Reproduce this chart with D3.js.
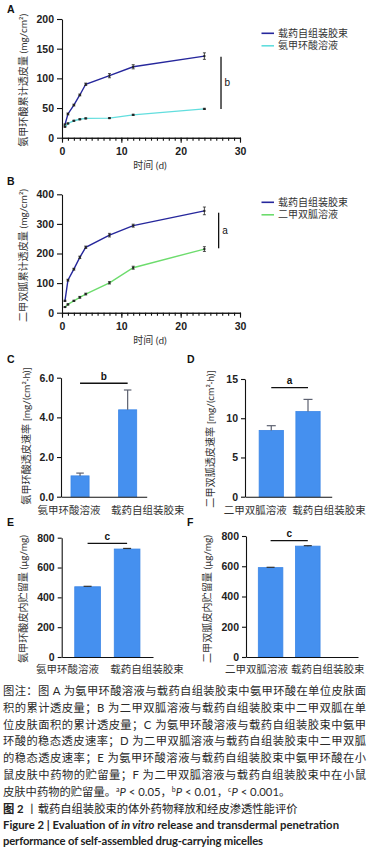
<!DOCTYPE html>
<html>
<head>
<meta charset="utf-8">
<script src="https://cdn.jsdelivr.net/npm/d3@7"></script>
<style>
  body { margin: 0; background: #fff; }
  svg { display: block; }
  .ax text { font-family: "Liberation Sans", Arial, sans-serif; font-size: 10.5px; font-weight: bold; fill: #222; }
  .ax path, .ax line { stroke: #111; stroke-width: 1.1; }
  .cat text { font-family: "Noto Sans CJK SC", sans-serif; font-size: 10.5px; fill: #333; }
</style>
</head>
<body>
<div id="fig"></div>
<script>
// sampling times (d)
var days = [0.5, 1, 2, 3, 4, 8, 12, 24]
var xTicks = [0, 10, 20, 30]

// A: tranexamic acid cumulative permeation (mg/cm2)
var aMicelle = [22, 40, 55, 72, 90, 104.5, 119.5, 137.5]
var aMicelleErr = [1, 1.5, 1.5, 1.5, 2, 3.5, 3.5, 5.5]
var aSolution = [18.5, 24, 28.5, 31, 32.5, 33, 38.5, 48.5]
var aSolutionErr = [0.8, 0.8, 0.8, 0.8, 0.8, 0.8, 1, 1]
var aTicks = [0, 50, 100, 150, 200]

// B: metformin cumulative permeation (mg/cm2)
var bMicelle = [40, 110, 147, 187, 221, 262, 294, 344]
var bMicelleErr = [2, 3, 3, 4, 4, 6, 5, 13]
var bSolution = [19, 28, 40, 52, 63, 101, 152, 215]
var bSolutionErr = [1, 2, 2, 3, 3, 4, 5, 8]
var bTicks = [0, 100, 200, 300, 400]

// C-F: bar panels
var catsTA = ["氨甲环酸溶液", "载药自组装胶束"]
var catsMF = ["二甲双胍溶液", "载药自组装胶束"]
var cValues = [1.05, 4.38], cErr = [0.14, 1.0], cTicks = [0, 2, 4, 6]
var dValues = [8.45, 10.85], dErr = [0.6, 1.55], dTicks = [0, 5, 10, 15]
var eValues = [471, 724], eErr = [3, 4]
var fValues = [591, 733], fErr = [2, 3]
var efTicks = [0, 200, 400, 600, 800]

var W = 373, H = 850
var svg = d3.select("#fig").append("svg").attr("width", W).attr("height", H)
svg.append("rect").attr("width", W).attr("height", H).attr("fill", "#fff")

var cjk = "'Noto Sans CJK SC', sans-serif"
var latin = "Lato, 'Noto Sans CJK SC', sans-serif"

function panelLetter(t, x, y) {
  svg.append("text").attr("x", x).attr("y", y).text(t)
    .attr("font-family", "'Liberation Sans', Arial, sans-serif")
    .attr("font-weight", "bold").attr("font-size", 10.5).attr("fill", "#111")
}

function yTitle(t, x, y) {
  svg.append("text").attr("transform", "translate(" + x + "," + y + ") rotate(-90)")
    .attr("text-anchor", "middle").attr("dy", "0.35em")
    .attr("font-family", latin).attr("font-size", 10.1).attr("fill", "#333")
    .text(t)
}

function linePanel(o) {
  var x = d3.scaleLinear().domain([0, 30]).range([62, 240])
  var y = d3.scaleLinear().domain([0, o.ymax]).range([o.y0, o.y1])
  var g = svg.append("g")

  // minor ticks, one per day
  g.append("g").attr("class", "ax").attr("transform", "translate(0," + o.y0 + ")")
    .call(d3.axisBottom(x).tickValues(d3.range(0, 31)).tickSize(3).tickSizeOuter(0).tickFormat(""))
  g.append("g").attr("class", "ax").attr("transform", "translate(0," + o.y0 + ")")
    .call(d3.axisBottom(x).tickValues(xTicks).tickSize(5).tickSizeOuter(0).tickPadding(5))
  g.append("g").attr("class", "ax").attr("transform", "translate(62,0)")
    .call(d3.axisLeft(y).tickValues(o.yTicks).tickSize(5).tickSizeOuter(0).tickPadding(3))

  o.series.forEach(function(s) {
    var pts = days.map(function(t, i) { return {t: t, v: s.values[i], e: s.err[i]} })
    g.append("path").datum(pts)
      .attr("fill", "none").attr("stroke", s.color).attr("stroke-width", 1.4)
      .attr("d", d3.line().x(function(d) { return x(d.t) }).y(function(d) { return y(d.v) }))

    var eb = g.selectAll(null).data(pts).enter().append("g").attr("stroke", "#222").attr("stroke-width", 0.8)
    eb.append("line")
      .attr("x1", function(d) { return x(d.t) }).attr("x2", function(d) { return x(d.t) })
      .attr("y1", function(d) { return y(d.v - d.e) }).attr("y2", function(d) { return y(d.v + d.e) })
    eb.append("line")
      .attr("x1", function(d) { return x(d.t) - 1.5 }).attr("x2", function(d) { return x(d.t) + 1.5 })
      .attr("y1", function(d) { return y(d.v + d.e) }).attr("y2", function(d) { return y(d.v + d.e) })
    eb.append("line")
      .attr("x1", function(d) { return x(d.t) - 1.5 }).attr("x2", function(d) { return x(d.t) + 1.5 })
      .attr("y1", function(d) { return y(d.v - d.e) }).attr("y2", function(d) { return y(d.v - d.e) })
    g.selectAll(null).data(pts).enter().append("rect")
      .attr("x", function(d) { return x(d.t) - 1 }).attr("y", function(d) { return y(d.v) - 1 })
      .attr("width", 2).attr("height", 2).attr("fill", "#222")
  })

  // significance bracket
  g.append("line").attr("x1", x(o.sig.x)).attr("x2", x(o.sig.x))
    .attr("y1", y(o.sig.lo)).attr("y2", y(o.sig.hi)).attr("stroke", "#111").attr("stroke-width", 1.3)
  g.append("text").attr("x", x(o.sig.x) + 3.5).attr("y", (y(o.sig.lo) + y(o.sig.hi)) / 2).attr("dy", "0.35em")
    .attr("font-family", "'Liberation Sans', Arial, sans-serif").attr("font-size", 10).attr("fill", "#111")
    .text(o.sig.label)

  // legend
  o.series.forEach(function(s, i) {
    var ly = o.legendY + i * 12.5
    g.append("line").attr("x1", 261.5).attr("x2", 274).attr("y1", ly).attr("y2", ly)
      .attr("stroke", s.color).attr("stroke-width", 1.6)
    g.append("text").attr("x", 278).attr("y", ly).attr("dy", "0.35em")
      .attr("font-family", cjk).attr("font-size", 10).attr("fill", "#333").text(s.name)
  })

  g.append("text").attr("x", 150).attr("y", o.y0 + 28).attr("dy", "0.35em").attr("text-anchor", "middle")
    .attr("font-family", latin).attr("font-size", 10).attr("fill", "#333").text("时间 (d)")
  yTitle(o.title, 23, (o.y0 + o.y1) / 2 + 2)
}

function barPanel(o) {
  var x = d3.scaleBand().domain(o.cats).range([o.x0, o.x1])
    .paddingInner(o.pi).paddingOuter(o.po).align(o.align)
  var y = d3.scaleLinear().domain([0, o.ymax]).range([o.y0, o.y1])
  var g = svg.append("g")
  var data = o.cats.map(function(c, i) { return {c: c, v: o.values[i], e: o.err[i]} })
  var bw = x.bandwidth()
  var cx = function(d) { return x(d.c) + bw / 2 }

  g.selectAll(null).data(data).enter().append("rect")
    .attr("x", function(d) { return x(d.c) }).attr("y", function(d) { return y(d.v) })
    .attr("width", bw).attr("height", function(d) { return o.y0 - y(d.v) })
    .attr("fill", "#4590ef").attr("stroke", "#3b86e6").attr("stroke-width", 0.8)

  var eb = g.selectAll(null).data(data).enter().append("g")
    .attr("stroke", o.errColor).attr("stroke-width", 1.2)
  eb.append("line").attr("x1", cx).attr("x2", cx)
    .attr("y1", function(d) { return y(d.v) }).attr("y2", function(d) { return y(d.v + d.e) })
  eb.append("line")
    .attr("x1", function(d) { return cx(d) - o.cap / 2 }).attr("x2", function(d) { return cx(d) + o.cap / 2 })
    .attr("y1", function(d) { return y(d.v + d.e) }).attr("y2", function(d) { return y(d.v + d.e) })

  g.append("g").attr("class", "ax").attr("transform", "translate(" + o.x0 + ",0)")
    .call(d3.axisLeft(y).tickValues(o.ticks).tickSize(4).tickSizeOuter(0).tickPadding(3))
  var xa = g.append("g").attr("class", "ax cat").attr("transform", "translate(0," + o.y0 + ")")
    .call(d3.axisBottom(x).tickSize(0).tickPadding(o.labPad))
  xa.selectAll("text").attr("dx", function(d, i) { return o.labDx[i] })
    .style("font-family", cjk).style("font-weight", "normal").style("fill", "#333")

  // significance line between the two bars
  var sy = y(o.sigY)
  g.append("line").attr("x1", cx(data[0])).attr("x2", cx(data[1])).attr("y1", sy).attr("y2", sy)
    .attr("stroke", "#111").attr("stroke-width", 1.3)
  g.append("text").attr("x", (cx(data[0]) + cx(data[1])) / 2).attr("y", sy - 3.5)
    .attr("text-anchor", "middle").attr("font-family", "'Liberation Sans', Arial, sans-serif")
    .attr("font-weight", "bold").attr("font-size", 10).attr("fill", "#111").text(o.sigLabel)

  yTitle(o.title, o.titleX, o.titleY)
}

linePanel({
  ymax: 200, y0: 137.7, y1: 19, yTicks: aTicks, legendY: 33.3,
  title: "氨甲环酸累计透皮量 (mg/cm²)",
  sig: {x: 26.8, lo: 48.4, hi: 136.5, label: "b"},
  series: [
    {name: "载药自组装胶束", values: aMicelle, err: aMicelleErr, color: "#26279c"},
    {name: "氨甲环酸溶液", values: aSolution, err: aSolutionErr, color: "#62dede"}
  ]
})
linePanel({
  ymax: 400, y0: 312.7, y1: 194.3, yTicks: bTicks, legendY: 202.3,
  title: "二甲双胍累计透皮量 (mg/cm²)",
  sig: {x: 26.4, lo: 217.6, hi: 337.8, label: "a"},
  series: [
    {name: "载药自组装胶束", values: bMicelle, err: bMicelleErr, color: "#26279c"},
    {name: "二甲双胍溶液", values: bSolution, err: bSolutionErr, color: "#6ddc6d"}
  ]
})

barPanel({
  cats: catsTA, values: cValues, err: cErr, ticks: cTicks, ymax: 6,
  x0: 61, x1: 146.7, y0: 496.7, y1: 377.7, pi: 0.62, po: 0.21, align: 0.5,
  cap: 7.5, errColor: "#5d6170", labPad: 9.5, labDx: [-11, 20],
  sigY: 5.72, sigLabel: "b",
  title: "氨甲环酸透皮速率 [mg/(cm²·h)]", titleX: 26.5, titleY: 436
})
barPanel({
  cats: catsMF, values: dValues, err: dErr, ticks: dTicks, ymax: 15,
  x0: 245, x1: 331.7, y0: 496.7, y1: 379, pi: 0.34, po: 0.35, align: 0.55,
  cap: 9, errColor: "#5d6170", labPad: 9.5, labDx: [-16, 21],
  sigY: 13.9, sigLabel: "a",
  title: "二甲双胍透皮速率 [mg/(cm²·h)]", titleX: 210, titleY: 439
})
barPanel({
  cats: catsTA, values: eValues, err: eErr, ticks: efTicks, ymax: 800,
  x0: 61.7, x1: 153, y0: 657, y1: 537.7, pi: 0.35, po: 0.33, align: 0.5,
  cap: 8, errColor: "#333", labPad: 8.5, labDx: [-20, 20],
  sigY: 762, sigLabel: "c",
  title: "氨甲环酸皮内贮留量 (μg/mg)", titleX: 23, titleY: 599
})
barPanel({
  cats: catsMF, values: fValues, err: fErr, ticks: efTicks, ymax: 800,
  x0: 246, x1: 358, y0: 657, y1: 536, pi: 0.34, po: 0.675, align: 0.245,
  cap: 8, errColor: "#333", labPad: 8.5, labDx: [-14, 20],
  sigY: 769, sigLabel: "c",
  title: "二甲双胍皮内贮留量 (μg/mg)", titleX: 207, titleY: 599
})

panelLetter("A", 7, 12.5)
panelLetter("B", 7, 185)
panelLetter("C", 7, 363)
panelLetter("D", 187, 363)
panelLetter("E", 7, 526)
panelLetter("F", 187, 526)

// caption
var capLines = [
  "图注：图 A 为氨甲环酸溶液与载药自组装胶束中氨甲环酸在单位皮肤面",
  "积的累计透皮量；B 为二甲双胍溶液与载药自组装胶束中二甲双胍在单",
  "位皮肤面积的累计透皮量；C 为氨甲环酸溶液与载药自组装胶束中氨甲",
  "环酸的稳态透皮速率；D 为二甲双胍溶液与载药自组装胶束中二甲双胍",
  "的稳态透皮速率；E 为氨甲环酸溶液与载药自组装胶束中氨甲环酸在小",
  "鼠皮肤中药物的贮留量；F 为二甲双胍溶液与载药自组装胶束中在小鼠"
]
capLines.forEach(function(t, i) {
  svg.append("text").attr("x", 3).attr("y", 695 + i * 16.8)
    .attr("textLength", 363).attr("lengthAdjust", "spacing")
    .attr("font-family", latin).attr("font-size", 11.3).attr("fill", "#2a2a2a").text(t)
})

var l7 = svg.append("text").attr("x", 3).attr("y", 695 + 6 * 16.8)
  .attr("font-family", latin).attr("font-size", 11.3).attr("fill", "#2a2a2a")
function run(el, t, opt) {
  var s = el.append("tspan").text(t)
  if (opt === "sup") s.attr("font-size", 7).attr("dy", -4)
  if (opt === "it") s.attr("font-style", "italic").attr("dy", 4)
  return s
}
l7.append("tspan").text("皮肤中药物的贮留量。")
;[["a", " < 0.05，"], ["b", " < 0.01，"], ["c", " < 0.001。"]].forEach(function(p) {
  run(l7, p[0], "sup")
  run(l7, "P", "it")
  l7.append("tspan").text(p[1])
})

var l8 = svg.append("text").attr("x", 3).attr("y", 695 + 7 * 16.8)
  .attr("font-family", latin).attr("font-size", 11.3).attr("fill", "#222")
l8.append("tspan").attr("font-weight", "bold").text("图 2 ")
l8.append("tspan").text("丨载药自组装胶束的体外药物释放和经皮渗透性能评价")

var l9 = svg.append("text").attr("x", 3).attr("y", 829)
  .attr("font-family", latin).attr("font-size", 11.3).attr("font-weight", "bold").attr("fill", "#222")
  .attr("textLength", 336).attr("lengthAdjust", "spacing")
l9.append("tspan").text("Figure 2  |  Evaluation of ")
l9.append("tspan").attr("font-style", "italic").text("in vitro")
l9.append("tspan").text(" release and transdermal penetration")

svg.append("text").attr("x", 3).attr("y", 845)
  .attr("font-family", latin).attr("font-size", 11.3).attr("font-weight", "bold").attr("fill", "#222")
  .attr("textLength", 260).attr("lengthAdjust", "spacing")
  .text("performance of self-assembled drug-carrying micelles")
</script>
</body>
</html>
